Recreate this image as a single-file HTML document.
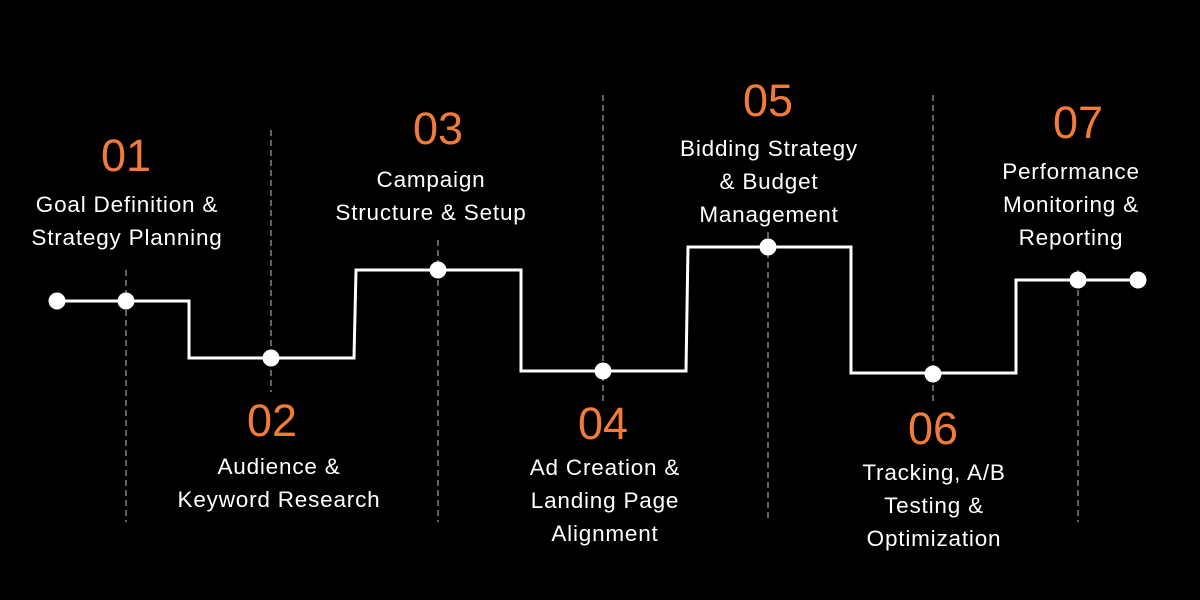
<!DOCTYPE html>
<html><head><meta charset="utf-8"><style>
html,body{margin:0;padding:0;background:#000;width:1200px;height:600px;overflow:hidden}
svg text{font-family:"Liberation Sans",sans-serif}
.n{fill:#F27B3A;font-size:45px}
.t{fill:#fff;font-size:22.5px;letter-spacing:0.8px}
</style></head><body>
<svg width="1200" height="600" viewBox="0 0 1200 600" xmlns="http://www.w3.org/2000/svg">
<rect width="1200" height="600" fill="#000"/>
<g stroke="#7a7a7a" stroke-width="1.6" stroke-dasharray="6 4" fill="none">
<line x1="126" y1="270" x2="126" y2="522"/>
<line x1="271" y1="130" x2="271" y2="392"/>
<line x1="438" y1="240" x2="438" y2="522"/>
<line x1="603" y1="95" x2="603" y2="402"/>
<line x1="768" y1="232" x2="768" y2="522"/>
<line x1="933" y1="95" x2="933" y2="402"/>
<line x1="1078" y1="270" x2="1078" y2="522"/>
</g>
<polyline fill="none" stroke="#fff" stroke-width="3" points="57,301 189,301 189,358 354,358 356,270 521,270 521,371 686,371 688,247 851,247 851,373 1016,373 1016,280 1138,280"/>
<g fill="#fff">
<circle cx="57" cy="301" r="8.5"/><circle cx="126" cy="301" r="8.5"/>
<circle cx="271" cy="358" r="8.5"/><circle cx="438" cy="270" r="8.5"/>
<circle cx="603" cy="371" r="8.5"/><circle cx="768" cy="247" r="8.5"/>
<circle cx="933" cy="374" r="8.5"/><circle cx="1078" cy="280" r="8.5"/>
<circle cx="1138" cy="280" r="8.5"/>
</g>
<g text-anchor="middle">
<text class="n" x="126" y="171">01</text>
<text class="t" x="127" y="212">Goal Definition &amp;</text>
<text class="t" x="127" y="245">Strategy Planning</text>
<text class="n" x="272" y="436">02</text>
<text class="t" x="279" y="474">Audience &amp;</text>
<text class="t" x="279" y="507">Keyword Research</text>
<text class="n" x="438" y="144">03</text>
<text class="t" x="431" y="187">Campaign</text>
<text class="t" x="431" y="220">Structure &amp; Setup</text>
<text class="n" x="603" y="439">04</text>
<text class="t" x="605" y="475">Ad Creation &amp;</text>
<text class="t" x="605" y="508">Landing Page</text>
<text class="t" x="605" y="541">Alignment</text>
<text class="n" x="768" y="116">05</text>
<text class="t" x="769" y="156">Bidding Strategy</text>
<text class="t" x="769" y="189">&amp; Budget</text>
<text class="t" x="769" y="222">Management</text>
<text class="n" x="933" y="444">06</text>
<text class="t" x="934" y="480">Tracking, A/B</text>
<text class="t" x="934" y="513">Testing &amp;</text>
<text class="t" x="934" y="546">Optimization</text>
<text class="n" x="1078" y="138">07</text>
<text class="t" x="1071" y="179">Performance</text>
<text class="t" x="1071" y="212">Monitoring &amp;</text>
<text class="t" x="1071" y="245">Reporting</text>
</g>
</svg>
</body></html>
